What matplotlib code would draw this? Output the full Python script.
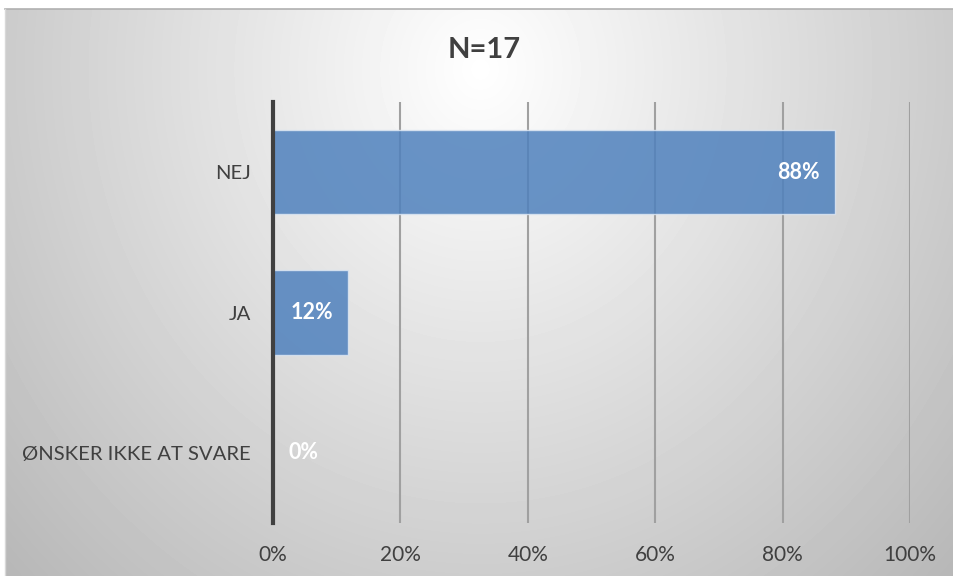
import numpy as np
import matplotlib
matplotlib.use("Agg")
import matplotlib.pyplot as plt
from matplotlib.ticker import PercentFormatter

categories = ["ØNSKER IKKE AT SVARE", "JA", "NEJ"]
values = [0.0, 11.8, 88.2]
labels = ["0%", "12%", "88%"]
title = "N=17"

W, H = 954, 576
fig = plt.figure(figsize=(W / 100, H / 100), dpi=100, facecolor="white")

# gradient background panel
bg = fig.add_axes([5 / W, 0, 1 - 5 / W, 1 - 9 / H])
bg.set_axis_off()
yy, xx = np.mgrid[0:567, 0:949]
d = np.sqrt(((xx - 475) / 560.0) ** 2 + ((yy - 60) / 620.0) ** 2)
val = np.clip(1.0 - 0.24 * d, 0, 1)
bg.imshow(val, cmap="gray", vmin=0, vmax=1, aspect="auto", extent=[0, 1, 0, 1], origin="upper")
fig.add_artist(plt.Line2D([5 / W, 1], [1 - 9 / H, 1 - 9 / H], color="#b0b0b0", lw=1.2, transform=fig.transFigure))
fig.add_artist(plt.Line2D([5 / W, 5 / W], [0, 1 - 9 / H], color="#d8d8d8", lw=1.0, transform=fig.transFigure))

ax = fig.add_axes([273 / W, 1 - 523 / H, (910 - 273) / W, (523 - 102) / H])
ax.set_facecolor("none")
y = np.arange(len(categories))
ax.barh(y, values, height=0.6, color="#4f81bd", alpha=0.85, edgecolor="#dce6f2", linewidth=1.0, zorder=3)
ax.set_xlim(0, 100)
ax.set_ylim(-0.5, 2.5)
ax.set_xticks(np.arange(0, 101, 20))
ax.xaxis.set_major_formatter(PercentFormatter(decimals=0))
ax.set_yticks(y)
ax.set_yticklabels(categories)
font = "Lato"
for lab in ax.get_xticklabels():
    lab.set_fontfamily(font)
    lab.set_fontsize(15)
    lab.set_color("#404040")
for lab in ax.get_yticklabels():
    lab.set_fontfamily(font)
    lab.set_fontsize(14.6)
    lab.set_color("#404040")
ax.tick_params(axis="both", length=0)
ax.tick_params(axis="x", pad=16)
ax.tick_params(axis="y", pad=16)
ax.grid(axis="x", color="#a0a0a0", linewidth=1.5, zorder=2)
ax.set_axisbelow(True)
for s in ["top", "right", "bottom"]:
    ax.spines[s].set_visible(False)
ax.spines["left"].set_color("#404040")
ax.spines["left"].set_linewidth(3)
ax.spines["left"].set_zorder(4)

for yi, v, lab in zip(y, values, labels):
    if v > 8:
        ax.annotate(lab, (v, yi), xytext=(-11, 0), textcoords="offset points",
                    ha="right", va="center", color="white", fontsize=15.5,
                    fontweight="bold", fontfamily=font, zorder=5)
    else:
        ax.annotate(lab, (v, yi), xytext=(11, 0), textcoords="offset points",
                    ha="left", va="center", color="white", fontsize=15.5,
                    fontweight="bold", fontfamily=font, zorder=5)

fig.text(484 / W, 1 - 50 / H, title, ha="center", va="center",
         fontsize=21, fontweight="bold", fontfamily=font, color="#404040")

fig.savefig("out.png", dpi=100)
